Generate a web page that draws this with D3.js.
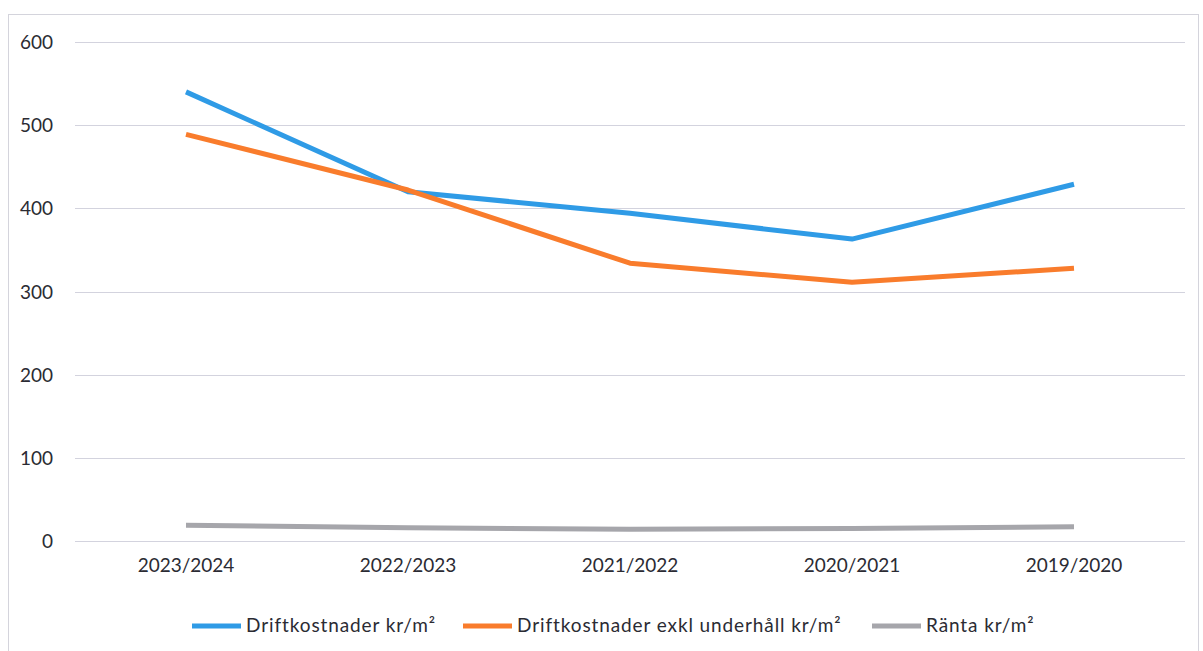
<!DOCTYPE html>
<html>
<head>
<meta charset="utf-8">
<script src="https://cdn.jsdelivr.net/npm/d3@7"></script>
<style>
  html, body { margin: 0; padding: 0; background: #fff; }
  svg { display: block; }
  text { font-family: Lato, "Open Sans", sans-serif; fill: #2b2b33; }
</style>
</head>
<body>
<svg id="chart" width="1203" height="651"></svg>
<script>
// Operating cost per square metre, by financial year
const years = ["2023/2024", "2022/2023", "2021/2022", "2020/2021", "2019/2020"];
const driftkostnader = [540, 420, 394, 363, 429];
const driftkostnaderExkl = [489, 422, 334, 311, 328];
const ranta = [19, 16, 14, 15, 17];
const yTicks = [0, 100, 200, 300, 400, 500, 600];
const seriesNames = ["Driftkostnader kr/m\u00B2", "Driftkostnader exkl underh\u00E5ll kr/m\u00B2", "R\u00E4nta kr/m\u00B2"];
const seriesColors = ["#2f9be6", "#f97c2c", "#a6a6ab"];

const series = [driftkostnader, driftkostnaderExkl, ranta].map((vals, i) => ({
  name: seriesNames[i], color: seriesColors[i], values: vals
}));

const svg = d3.select("#chart");

// outer chart frame
svg.append("rect")
  .attr("x", 8.5).attr("y", 14.5)
  .attr("width", 1190).attr("height", 650)
  .attr("fill", "none").attr("stroke", "#d4d4dc").attr("stroke-width", 1);

const x = d3.scaleBand().domain(years).range([75, 1185]);
const y = d3.scaleLinear().domain([0, 600]).range([541, 42]);

// horizontal gridlines
svg.append("g")
  .selectAll("line")
  .data(yTicks)
  .join("line")
  .attr("x1", 75).attr("x2", 1185)
  .attr("y1", d => Math.round(y(d)) + 0.5).attr("y2", d => Math.round(y(d)) + 0.5)
  .attr("stroke", "#d3d3de").attr("stroke-width", 1);

// y axis labels
const yAxis = d3.axisLeft(y).tickValues(yTicks).tickSize(0).tickPadding(0);
const gy = svg.append("g").attr("transform", "translate(53,0)").call(yAxis);
gy.select(".domain").remove();
gy.selectAll("text")
  .attr("font-size", 19)
  .attr("dy", "0.35em")
  .attr("text-anchor", "end")
  .style("font-family", "Lato, 'Open Sans', sans-serif")
  .attr("fill", "#2b2b33");

// x axis labels
const xAxis = d3.axisBottom(x).tickSize(0).tickPadding(0);
const gx = svg.append("g").attr("transform", "translate(0,558)").call(xAxis);
gx.select(".domain").remove();
gx.selectAll("text")
  .attr("font-size", 19)
  .attr("dy", "0.71em")
  .style("font-family", "Lato, 'Open Sans', sans-serif")
  .attr("fill", "#2b2b33");

// series lines
const line = d3.line()
  .x((d, i) => x(years[i]) + x.bandwidth() / 2)
  .y(d => y(d));

svg.append("g")
  .selectAll("path")
  .data(series)
  .join("path")
  .attr("d", d => line(d.values))
  .attr("fill", "none")
  .attr("stroke", d => d.color)
  .attr("stroke-width", 5)
  .attr("stroke-linejoin", "round");

// legend
const legendX = [192, 463, 872];
const lg = svg.append("g").attr("transform", "translate(0,626)");
const items = lg.selectAll("g").data(series).join("g")
  .attr("transform", (d, i) => `translate(${legendX[i]},0)`);
items.append("line")
  .attr("x1", 0).attr("x2", 49).attr("y1", 0).attr("y2", 0)
  .attr("stroke", d => d.color).attr("stroke-width", 5);
items.append("text")
  .attr("x", 54).attr("y", 0).attr("dy", "0.32em")
  .attr("font-size", 19)
  .attr("letter-spacing", "0.9px")
  .attr("fill", "#2b2b33")
  .text(d => d.name);
</script>
</body>
</html>
